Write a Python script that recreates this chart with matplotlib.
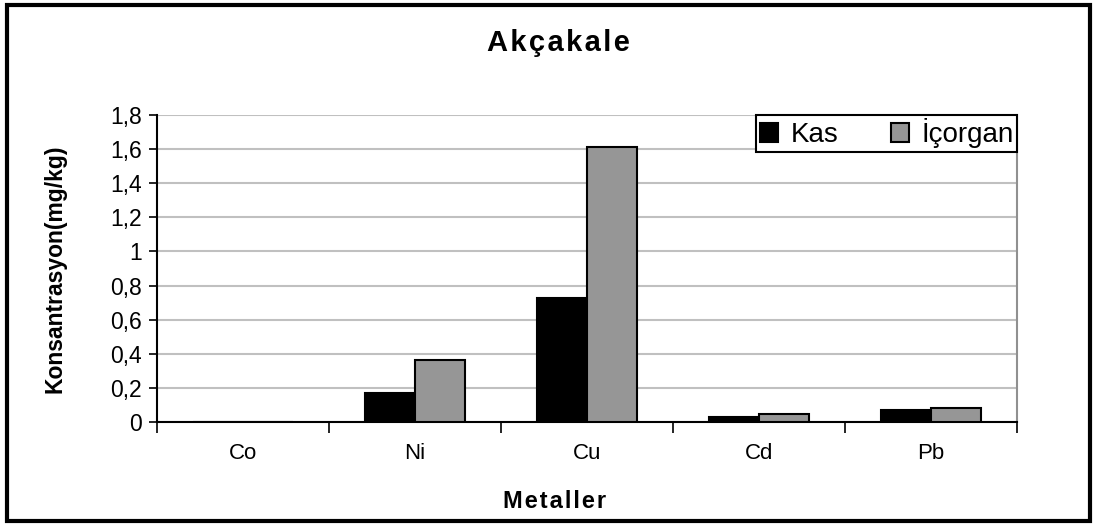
import numpy as np
import matplotlib.pyplot as plt
from matplotlib.patches import Rectangle

plt.rcParams['font.family'] = ['Liberation Sans', 'DejaVu Sans']

metals = ["Co", "Ni", "Cu", "Cd", "Pb"]
kas = [0.0, 0.17, 0.725, 0.03, 0.07]
icorgan = [0.0, 0.365, 1.61, 0.045, 0.08]
yticks = [0, 0.2, 0.4, 0.6, 0.8, 1.0, 1.2, 1.4, 1.6, 1.8]
ylabels = ["0", "0,2", "0,4", "0,6", "0,8", "1", "1,2", "1,4", "1,6", "1,8"]

fig = plt.figure(figsize=(10.94, 5.26), dpi=100)
ax = fig.add_axes([157 / 1094, 1 - 422 / 526, 860 / 1094, 307 / 526])

x = np.arange(len(metals))
w = 0.29
ax.bar(x - w / 2, kas, w, color='black', edgecolor='black', linewidth=1.5, label='Kas', zorder=3)
ax.bar(x + w / 2, icorgan, w, color='#969696', edgecolor='black', linewidth=1.5, label='İçorgan', zorder=3)

ax.set_xlim(-0.5, len(metals) - 0.5)
ax.set_ylim(0, 1.8)
ax.set_yticks(yticks)
ax.set_yticklabels(ylabels, fontsize=16.5)
ax.set_xticks(x)
ax.set_xticklabels(metals, fontsize=16)
ax.tick_params(axis='x', length=0, pad=15)
ax.tick_params(axis='y', length=6, width=1.2, direction='out', pad=5)
# category boundary ticks
ax.set_xticks(np.arange(-0.5, len(metals)), minor=True)
ax.tick_params(axis='x', which='minor', length=8, width=1.2, direction='out')

ax.yaxis.grid(True, color='#c0c0c0', linewidth=1.5, zorder=0)
ax.set_axisbelow(True)
ax.spines['right'].set_color('#909090')
ax.spines['right'].set_linewidth(1.5)
ax.spines['top'].set_visible(False)
for s in ['left', 'bottom']:
    ax.spines[s].set_color('black')
    ax.spines[s].set_linewidth(1.5)

ax.set_ylabel("Konsantrasyon(mg/kg)", fontsize=16.5, fontweight='bold')
ax.yaxis.set_label_coords((66 - 157) / 860, 0.5)
fig.text(555 / 1094, 1 - 501 / 526, "\u200a".join("Metaller"), ha='center', va='center',
         fontsize=17, fontweight='bold')
fig.text(558 / 1094, 1 - 43 / 526, "\u200a".join("Akçakale"), ha='center', va='center',
         fontsize=21, fontweight='bold')

leg = ax.legend(loc='upper right', bbox_to_anchor=(1.0, 1.0), ncol=2, fontsize=20,
                frameon=True, fancybox=False, framealpha=1, edgecolor='black',
                handlelength=0.65, handleheight=0.65, handletextpad=0.45, columnspacing=1.9,
                borderpad=0.12, borderaxespad=0)
leg.get_frame().set_linewidth(1.5)

fig.patches.append(Rectangle((7 / 1094, 5 / 526), 1083 / 1094, 516 / 526, transform=fig.transFigure,
                             fill=False, edgecolor='black', linewidth=3))

fig.savefig("out.png", dpi=100)
